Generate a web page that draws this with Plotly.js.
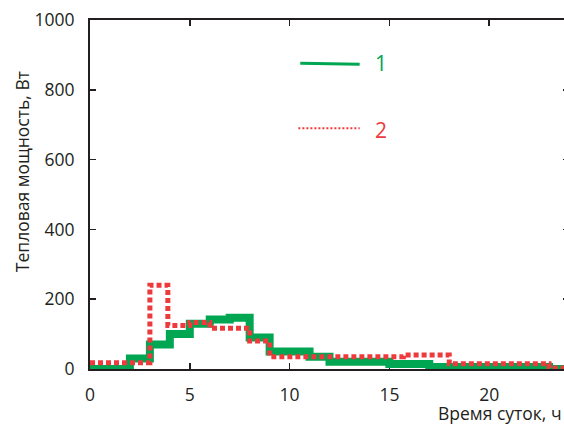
<!DOCTYPE html>
<html><head><meta charset="utf-8">
<script src="https://cdn.plot.ly/plotly-3.0.1.min.js"></script>
<style>html,body{margin:0;padding:0;overflow:hidden;background:#fff;width:564px;height:424px}</style>
</head><body><div id="chart"></div>
<script>
// Series 1 (green, solid) step breakpoints, hours and W
const hours1 = [0, 2, 3, 4, 5, 6, 7, 8, 9, 11, 12, 15, 17, 23, 24];
const power1 = [0, 30, 70, 100, 130, 142, 147, 90, 50, 35, 21, 14, 6, 0, 0];
// Series 2 (red, dotted)
const hours2 = [0, 3, 3.9, 5, 6, 8, 9, 15.7, 18, 23, 24];
const power2 = [18, 240, 125, 133, 117, 80, 35, 40, 15, 3, 3];
const xTicks = [0, 5, 10, 15, 20];
const yTicks = [0, 200, 400, 600, 800, 1000];
const legendLabels = ['1', '2'];
const xTitle = 'Время суток, ч';
const yTitle = 'Тепловая мощность, Вт';

const green = '#00a651';
const red = '#ee3a3d';
const axisCol = '#231f20';
const font = {family: 'Open Sans, DejaVu Sans, sans-serif', size: 17.5, color: '#231f20'};

const traces = [
  {x: hours1, y: power1, mode: 'lines', line: {shape: 'hv', color: green, width: 8}, cliponaxis: false, showlegend: false},
  {x: hours2, y: power2, mode: 'lines', line: {shape: 'hv', color: red, width: 5, dash: '5px,3px'}, cliponaxis: false, showlegend: false}
];

const axisCommon = {showline: true, linecolor: axisCol, linewidth: 2, mirror: 'ticks', ticks: 'inside', ticklen: 6, tickwidth: 1.5, tickcolor: axisCol, showgrid: false, zeroline: false, layer: 'below traces', tickfont: font};

const layout = {
  width: 570, height: 424,
  margin: {l: 90, r: 1, t: 20, b: 55},
  paper_bgcolor: '#fff', plot_bgcolor: '#fff',
  xaxis: Object.assign({}, axisCommon, {range: [0, 24], tickvals: xTicks, ticktext: xTicks.map(String), ticklabelstandoff: 9}),
  yaxis: Object.assign({}, axisCommon, {range: [0, 1000], tickvals: yTicks, ticktext: yTicks.map(String), ticklabelstandoff: 10}),
  shapes: [
    {type: 'line', xref: 'paper', yref: 'paper', x0: 0.439, x1: 0.563, y0: 0.876, y1: 0.873, line: {color: green, width: 3}},
    {type: 'line', xref: 'paper', yref: 'paper', x0: 0.435, x1: 0.563, y0: 0.69, y1: 0.69, line: {color: red, width: 2, dash: '2px,2px'}}
  ],
  annotations: [
    {xref: 'paper', yref: 'paper', x: 0.608, y: 0.876, text: legendLabels[0], showarrow: false, font: {family: font.family, size: 21, color: green}, xanchor: 'center', yanchor: 'middle'},
    {xref: 'paper', yref: 'paper', x: 0.6085, y: 0.686, text: legendLabels[1], showarrow: false, font: {family: font.family, size: 21, color: red}, xanchor: 'center', yanchor: 'middle'},
    {xref: 'paper', yref: 'paper', x: 0.9905, xanchor: 'right', y: -0.125, yanchor: 'middle', text: xTitle, showarrow: false, font: {family: font.family, size: 17.5, color: font.color}},
    {xref: 'paper', yref: 'paper', x: 0, xshift: -68, y: 0.564, text: yTitle, textangle: -90, showarrow: false, font: font, xanchor: 'center', yanchor: 'middle'}
  ]
};

Plotly.newPlot('chart', traces, layout, {staticPlot: true, displayModeBar: false});
</script></body></html>
